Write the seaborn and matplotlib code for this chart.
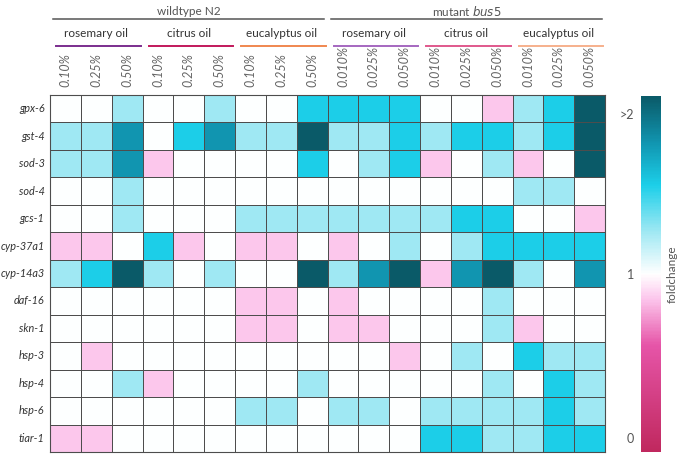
import numpy as np
import pandas as pd
import matplotlib
matplotlib.use("Agg")
import matplotlib.pyplot as plt
import seaborn as sns
from matplotlib.colors import LinearSegmentedColormap
from matplotlib.transforms import blended_transform_factory

# poziomy foldchange
P, W, L, M, T, D = 0.86, 1.0, 1.24, 1.5, 1.74, 2.0

genes = ["gpx-6", "gst-4", "sod-3", "sod-4", "gcs-1", "cyp-37a1", "cyp-14a3",
         "daf-16", "skn-1", "hsp-3", "hsp-4", "hsp-6", "tiar-1"]
conc_wt = ["0.10%", "0.25%", "0.50%"] * 3
conc_mut = ["0.010%", "0.025%", "0.050%"] * 3
oils = ["rosemary oil", "citrus oil", "eucalyptus oil"]
strains = ["wildtype N2", "mutant bus5"]

wildtype = [
    [W, W, L, W, W, L, W, W, M],
    [L, L, T, W, M, T, L, L, D],
    [L, L, T, P, W, W, W, W, M],
    [W, W, L, W, W, W, W, W, W],
    [W, W, L, W, W, W, L, L, L],
    [P, P, W, M, P, W, P, P, W],
    [L, M, D, L, W, L, W, W, D],
    [W, W, W, W, W, W, P, P, W],
    [W, W, W, W, W, W, P, P, W],
    [W, P, W, W, W, W, W, W, W],
    [W, W, L, P, W, W, W, W, L],
    [W, W, W, W, W, W, L, L, W],
    [P, P, W, W, W, W, W, W, W],
]
mutant = [
    [M, M, M, W, W, P, L, M, D],
    [L, L, M, L, M, M, L, M, D],
    [W, L, M, P, W, L, P, W, D],
    [W, W, W, W, W, W, L, L, W],
    [L, L, L, L, M, M, W, W, P],
    [P, W, L, W, L, M, M, M, M],
    [L, T, D, P, T, D, L, W, T],
    [P, W, W, W, W, L, W, W, W],
    [P, P, W, W, W, L, P, W, W],
    [W, W, P, W, L, W, M, L, L],
    [W, W, W, W, W, L, W, M, L],
    [L, L, W, L, L, L, L, M, L],
    [W, W, W, M, M, L, L, M, M],
]

oil_colors_wt = ["#7b2d8e", "#c2185b", "#f0874f"]
oil_colors_mut = ["#a567c0", "#e0588c", "#f6b08c"]

data = pd.DataFrame(np.hstack([np.array(wildtype), np.array(mutant)]), index=genes)

cmap = LinearSegmentedColormap.from_list("fc", [
    (0.0, "#c0285e"), (0.3, "#e655a8"), (0.43, "#fcc6ec"), (0.5, "#ffffff"),
    (0.62, "#9fe8f3"), (0.75, "#1ccfe9"), (0.87, "#1195b0"), (1.0, "#0a5a68")])

plt.rcParams["font.family"] = ["Lato", "DejaVu Sans"]
grey = "#555555"

fig = plt.figure(figsize=(6.78, 4.54), dpi=100)
ax = fig.add_axes([50 / 678, 2 / 454, 555 / 678, 357 / 454])
cax = fig.add_axes([641 / 678, 2 / 454, 20 / 678, 356 / 454])

sns.heatmap(data, ax=ax, cmap=cmap, vmin=0, vmax=2, cbar_ax=cax,
            linewidths=0.5, linecolor="#4d4d4d")

for s in ax.spines.values():
    s.set_visible(True)
    s.set_color("#4d4d4d")
    s.set_linewidth(0.8)

ax.xaxis.tick_top()
ax.set_xticks(np.arange(18) + 0.5)
ax.set_xticklabels(conc_wt + conc_mut, rotation=90, fontsize=9, style="italic", color="#666666")
ax.set_yticklabels(genes, rotation=0, fontsize=7.8, style="italic", color="#333333")
ax.tick_params(length=0)
ax.tick_params(axis="y", pad=4)
ax.tick_params(axis="x", pad=6)
ax.set_xlabel("")
ax.set_ylabel("")

# naglowki grup
tr = blended_transform_factory(ax.transData, fig.transFigure)
for si in range(2):
    x0 = si * 9
    ax.plot([x0 + 0.1, x0 + 8.9], [0.958, 0.958], transform=tr, color=grey, lw=1.1, clip_on=False)
    if si == 0:
        ax.text(x0 + 4.5, 0.975, strains[0], transform=tr, ha="center", va="center", fontsize=8.5, color=grey)
    else:
        ax.text(x0 + 4.5, 0.975, r"mutant $\it{bus5}$", transform=tr, ha="center", va="center", fontsize=8.5, color=grey)
    cols = oil_colors_wt if si == 0 else oil_colors_mut
    for oi, oil in enumerate(oils):
        c0 = x0 + oi * 3
        ax.plot([c0 + 0.2, c0 + 2.95], [0.899, 0.899], transform=tr, color=cols[oi], lw=1.4, clip_on=False)
        ax.text(c0 + 1.5, 0.927, oil, transform=tr, ha="center", va="center", fontsize=8.5, color="#333333")

# colorbar
cb = ax.collections[0].colorbar
cb.outline.set_visible(False)
cb.set_ticks([0.08, 1, 1.9])
cb.set_ticklabels(["0", "1", ">2"])
cax.yaxis.set_ticks_position("left")
cax.tick_params(length=0, pad=5, labelsize=9, labelcolor=grey)
cax.yaxis.set_label_position("right")
cax.set_ylabel("foldchange", fontsize=8.5, color=grey, labelpad=4)

fig.savefig("out.png", dpi=100)
